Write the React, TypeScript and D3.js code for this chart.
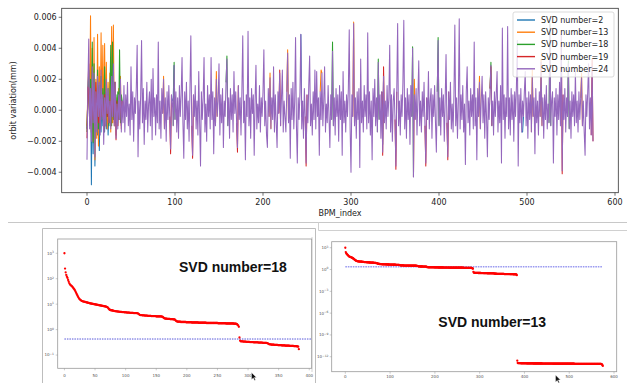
import React from "react";
import * as d3 from "d3";

// ---- top chart: orbit variation per BPM, values in 1e-4 mm ----
const svd24 = [
  -32, 16, 46, -12, 14, -20, 28, -8, 24, -30, 12, -14, 22, -4, 18, -16, 26, -6, 10, -22,
  8, -10, 20, -2, 14, -8, 6, -12, 22, -4, 30, -10, 18, -18, 4, -12, 10, -6, 20, -14,
  6, -8, 16, -14, 10, -4, 18, -10, 4, -16, 28, -6, 12, -20, 8, -2, 14, 42, -30, 6,
  -12, 10, 45, -8, 14, -22, 6, -6, 18, -14, 4, 12, -10, 20, -19, 27, -4, 8, -16, 10,
  -8, 44, -12, 6, -18, 14, -2, 20, -12, 8, -20, 12, -6, 16, -4, -25, 10, 6, -10, 29,
  -6, 12, -14, 8, -18, 16, -4, 10, 34, -8, -31, 12, -6, 18, -12, 6, -20, 14, 48, -10,
  -29, 10, -4, 16, -12, 6, -16, 25, -8, -36, 12, -6, 8, 34, -14, 4, -20, 16, -4, 10,
  -12, 34, -6, 12, -28, 8, -10, 20, -4, 6, 30, -16, 10, -8, 14, -24, 6, -4, 18, 33,
  -10, 8, -18, 14, -6, 10, -14, 25, -2, 12, -8, -24, 16, -6, 8, -16, 12, 48, -8, 6,
  -32, 10, -4, 51, -10, 8, -18, 14, -2, 10, -29, 6, 29, -12, 4, -8, 16, -14, 8, -4,
  12, 39, -10, 6, -16, -24, 14, -4, 21, -12, 8, -6, 28, -14, 10, -8, -24, 12, -2, 24,
  -10, 8, 26, -14, 6, -4, -14, 12, 37, -8, 10, -31, 14, -6, 18, -12, 6, 47, -10, -34,
  8, -6, 12, 49, -12, 6, -18, 14, -4, -34, 10, -8, 16, 35, -10, 4, -16, 12, -6, 26,
  -12, 25, -4, 8, -29, 12, -6, 24, -10, 6, 28, -14, 4, -8, 16, -4, -24, 10, -6, 38,
  -10, 8, -16, 14, -4, 10, -20, 16, -6, 12, -29, 25, -8, 6, -14, 10, -4, 14, 52, -12,
  -40, 10, -4, 56, -10, 8, -18, 12, -6, 14, -37, 33, -8, 6, -14, 16, -4, 10, -12, 50,
  -8, 12, -16, 6, -32, 14, -4, 20, -10, 8, -14, 31, -6, 10, -18, 12, -27, 22, -8, 6,
  -12, 16, -4, 8, 42, -14, 10, -20, 6, 14, -6, -36, 12, 56, -10, 6, -16, 10, -4, 18,
  58, -12, 8, -18, 14, -6, 10, -22, 16, -4, 40, -43, 10, -6, 14, -16, 8, 32, -10, 6,
  -14, 12, -4, 18, -10, -34, 8, -6, 25, -12, 6, 14, -18, 10, -4, 16, -8, -27, 12, 45,
  -10, 8, -16, 14, -4, 10, -20, 6, 36, -8, -30, 12, -6, 18, -12, 4, -14, 10, 55, -10,
  8, -18, 6, 59, -12, 10, -6, 16, -14, 4, -35, 12, 28, -8, 6, -16, 14, -4, 10, -12,
  44, -10, 8, -32, 14, -4, 18, -12, 6, 22, -8, 10, -18, 12, -4, -30, 8, -6, 14, 29,
  -10, 6, -16, 12, -4, 10, 25, -14, 6, -8, 16, -34, 53, -6, 10, -18, 8, -4, 54, -12,
  8, -16, 14, -6, 10, -20, 12, -4, 16, 45, -36, 10, -8, 14, -14, 6, -4, 12, 25, -10,
  8, -18, 12, -6, 10, -14, 22, -4, 8, -28, 14, -8, 6, -16, 12, -4, 31, -10, 8, -18,
  10, -6, 16, -12, 4, -8, 55, -10, 6, 12, -34, 8, -4, 14, -16, 10, -6, 18, -10, 49,
  -39, 10, -6, 14, -14, 8, -4, 30, -12, 6, -18, 12, -4, 10, -10, 25, -8, 6, -14, 12,
  -6, 8, 21, -10, 6, -14, -29, 10, -4, 12, 30, -12, 8, -16, 28, -20,
];

// the other solutions differ mostly over the first 40 BPMs, plus a few peak tips
const svd2Head = [
  -12, 10, 24, -10, 30, -48, 26, -28, 20, -36, -4, 14, -16, 8, -26, 10, -14, 6, -10, 4,
  -14, 6, -12, 4, -16, 2, -8, 10, -6, 8, -4, 18, -10, 4, -8, 6, -4, 10, -6, 4,
];
const svd13Head = [
  -10, 14, 30, -6, 61, -14, 40, -20, 47, -32, 20, -18, 49, -23, 28, -8, 50, -4, 42, -14,
  43, -10, 31, -12, 18, -6, 24, -14, 54, -8, 55, -10, 18, -16, 8, -10, 14, -6, 22, -12,
];
const svd18Head = [
  -14, 10, 26, -8, 20, -12, 44, -21, 30, -18, 10, -8, 26, -12, 16, -10, 22, -6, 14, -12,
  28, -8, 12, -4, 14, -10, 8, 42, -10, 44, -6, 18, -8, 10, -4, 12, -6, 39, -8, 10,
];
const svd19Head = [
  -18, 15, 14, -8, 10, -14, 18, -6, 12, -10, 18, -6, 14, -8, 10, -12, 16, -4, 8, -14,
  10, -6, 14, -4, 10, -8, 6, -10, 18, -4, 14, -8, 18, -19, 6, -10, 8, -4, 12, -10,
];
const svd2Tips = [[98, 8], [244, -4], [495, -14], [336, -22]];
const svd13Tips = [[87, 22], [147, 25], [208, 24], [228, 39], [266, 26], [303, 57], [372, 20], [446, 22], [506, 26], [516, 33], [562, 24]];
const svd18Tips = [[99, 31], [159, 35], [279, 44], [331, 33], [370, 41], [399, 47], [459, 31], [526, 56], [547, 32]];
const svd19Tips = [[95, -28], [120, -31], [171, -27], [219, 26], [249, -36], [336, -29], [337, 28], [351, -38], [385, -36], [410, -32], [459, 28], [540, -41], [574, 33]];

const xTicksTop = [0, 100, 200, 300, 400, 500, 600];
const yTicksTop = [-0.004, -0.002, 0, 0.002, 0.004, 0.006];

// ---- bottom panels: singular values, log10 ----
const singularLog = [
  3.0, 2.4, 2.25, 2.15, 2.08, 2.03, 1.95, 1.88, 1.82, 1.78, 1.75, 1.73, 1.71, 1.68, 1.65, 1.62, 1.59, 1.55, 1.5, 1.45, 1.4, 1.35, 1.3, 1.26,
  1.22, 1.19, 1.17, 1.15, 1.13, 1.12, 1.11, 1.1, 1.1, 1.09, 1.09, 1.08, 1.07, 1.07, 1.06, 1.05, 1.05, 1.04, 1.03, 1.03, 1.02, 1.02, 1.01, 1.01,
  1.0, 1.0, 0.99, 0.99, 0.98, 0.98, 0.97, 0.97, 0.96, 0.96, 0.95, 0.95, 0.94, 0.94, 0.93, 0.93, 0.92, 0.92, 0.91, 0.91, 0.9, 0.89, 0.88, 0.86,
  0.83, 0.8, 0.78, 0.77, 0.76, 0.76, 0.75, 0.75, 0.74, 0.74, 0.73, 0.73, 0.72, 0.72, 0.72, 0.71, 0.71, 0.71, 0.7, 0.7, 0.7, 0.7, 0.69, 0.69,
  0.69, 0.69, 0.68, 0.68, 0.68, 0.68, 0.67, 0.67, 0.67, 0.67, 0.67, 0.66, 0.66, 0.66, 0.66, 0.66, 0.66, 0.65, 0.65, 0.65, 0.65, 0.65, 0.65, 0.64,
  0.64, 0.62, 0.6, 0.58, 0.57, 0.57, 0.57, 0.56, 0.56, 0.56, 0.56, 0.55, 0.55, 0.55, 0.55, 0.55, 0.54, 0.54, 0.54, 0.54, 0.54, 0.54, 0.53, 0.53,
  0.53, 0.53, 0.53, 0.53, 0.53, 0.53, 0.52, 0.52, 0.52, 0.52, 0.52, 0.52, 0.52, 0.52, 0.52, 0.51, 0.51, 0.49, 0.47, 0.45, 0.44, 0.43, 0.43, 0.43,
  0.42, 0.42, 0.42, 0.42, 0.42, 0.41, 0.41, 0.41, 0.41, 0.41, 0.4, 0.4, 0.4, 0.38, 0.35, 0.33, 0.32, 0.31, 0.31, 0.31, 0.31, 0.31, 0.3, 0.3,
  0.3, 0.3, 0.3, 0.3, 0.3, 0.3, 0.3, 0.29, 0.29, 0.29, 0.29, 0.29, 0.29, 0.29, 0.29, 0.29, 0.28, 0.28, 0.28, 0.28, 0.28, 0.28, 0.28, 0.28,
  0.28, 0.28, 0.28, 0.27, 0.27, 0.27, 0.27, 0.27, 0.27, 0.27, 0.27, 0.27, 0.27, 0.27, 0.27, 0.27, 0.26, 0.26, 0.26, 0.26, 0.26, 0.26, 0.26, 0.26,
  0.26, 0.26, 0.26, 0.26, 0.26, 0.26, 0.26, 0.26, 0.26, 0.26, 0.26, 0.25, 0.25, 0.25, 0.25, 0.25, 0.25, 0.25, 0.25, 0.25, 0.25, 0.25, 0.25, 0.25,
  0.24, 0.24, 0.24, 0.24, 0.24, 0.24, 0.24, 0.24, 0.24, 0.24, 0.24, 0.24, 0.24, 0.23, 0.23, 0.23, 0.23, 0.22, 0.21, 0.19, 0.16, 0.11, -0.31, -0.43,
  -0.46, -0.46, -0.46, -0.46, -0.47, -0.47, -0.47, -0.47, -0.47, -0.48, -0.48, -0.48, -0.48, -0.48, -0.48, -0.49, -0.49, -0.49, -0.49, -0.49, -0.49, -0.5, -0.5, -0.5,
  -0.5, -0.5, -0.5, -0.5, -0.5, -0.51, -0.51, -0.51, -0.51, -0.51, -0.51, -0.51, -0.52, -0.52, -0.52, -0.52, -0.52, -0.52, -0.52, -0.53, -0.54, -0.55, -0.57, -0.58,
  -0.58, -0.58, -0.59, -0.59, -0.59, -0.59, -0.59, -0.6, -0.6, -0.6, -0.6, -0.6, -0.6, -0.61, -0.61, -0.61, -0.61, -0.61, -0.61, -0.62, -0.62, -0.62, -0.62, -0.62,
  -0.62, -0.63, -0.63, -0.63, -0.63, -0.63, -0.63, -0.63, -0.64, -0.64, -0.64, -0.64, -0.64, -0.64, -0.64, -0.65, -0.65, -0.65, -0.65, -0.65, -0.66, -0.66, -0.67, -0.77,
  -12.54, -12.86, -12.87, -12.88, -12.88, -12.89, -12.89, -12.89, -12.9, -12.9, -12.9, -12.9, -12.9, -12.9, -12.91, -12.91, -12.91, -12.91, -12.91, -12.91, -12.91, -12.92, -12.92, -12.92,
  -12.92, -12.92, -12.92, -12.92, -12.92, -12.92, -12.92, -12.92, -12.92, -12.92, -12.92, -12.92, -12.93, -12.93, -12.93, -12.93, -12.93, -12.93, -12.93, -12.93, -12.93, -12.93, -12.93, -12.93,
  -12.93, -12.93, -12.93, -12.93, -12.93, -12.93, -12.93, -12.93, -12.94, -12.94, -12.94, -12.94, -12.94, -12.94, -12.94, -12.94, -12.94, -12.94, -12.94, -12.94, -12.94, -12.94, -12.94, -12.94,
  -12.94, -12.94, -12.94, -12.94, -12.94, -12.94, -12.94, -12.94, -12.95, -12.95, -12.95, -12.95, -12.95, -12.95, -12.95, -12.95, -12.95, -12.95, -12.95, -12.95, -12.95, -12.95, -12.95, -12.95,
  -12.95, -12.95, -12.95, -12.95, -12.95, -12.95, -12.95, -12.95, -12.96, -12.96, -12.96, -12.96, -12.96, -12.96, -12.96, -12.96, -12.96, -12.96, -12.96, -12.96, -12.96, -12.96, -12.96, -12.96,
  -12.96, -12.96, -12.96, -12.96, -12.96, -12.96, -12.96, -12.96, -12.97, -12.97, -12.97, -12.97, -12.97, -12.97, -12.97, -12.97, -12.97, -12.97, -12.97, -12.97, -12.97, -12.97, -12.97, -12.97,
  -12.97, -12.97, -12.97, -12.97, -12.97, -12.97, -12.97, -12.97, -12.98, -12.98, -12.98, -12.98, -12.98, -12.98, -12.98, -12.98, -12.98, -12.98, -12.98, -12.98, -12.98, -12.98, -12.98, -12.98,
  -12.98, -12.98, -12.98, -12.98, -12.98, -12.98, -12.98, -12.98, -12.98, -12.98, -12.99, -12.99, -12.99, -12.99, -12.99, -12.99, -12.99, -12.99, -12.99, -12.99, -13.02, -13.06, -13.14, -13.27,
];
const cutLog18 = -0.37;
const cutLog13 = 0.39;
const leftCount = 384;
const xTicksLeft = [0, 50, 100, 150, 200, 250, 300, 350, 400];
const yExpLeft = [3, 2, 1, 0, -1];
const xTicksRight = [0, 100, 200, 300, 400, 500, 600];
const yExpRight = [3, 0, -3, -6, -9, -12];

// series equal to SVD=24 outside its own head and tips; only the differing parts are drawn
function buildSeries(head: number[], tips: number[][]) {
  const values = svd24.slice();
  const shown = svd24.map((_, i) => i <= head.length);
  head.forEach((v, i) => (values[i] = v));
  tips.forEach(([i, v]) => {
    values[i] = v;
    shown[i - 1] = shown[i] = shown[i + 1] = true;
  });
  return { values, shown };
}

const series = [
  { label: "SVD number=2", color: "#1f77b4", ...buildSeries(svd2Head, svd2Tips) },
  { label: "SVD number=13", color: "#ff7f0e", ...buildSeries(svd13Head, svd13Tips) },
  { label: "SVD number=18", color: "#2ca02c", ...buildSeries(svd18Head, svd18Tips) },
  { label: "SVD number=19", color: "#d62728", ...buildSeries(svd19Head, svd19Tips) },
  { label: "SVD number=24", color: "#9467bd", values: svd24, shown: svd24.map(() => true) },
];

const MPL = "DejaVu Sans, sans-serif";

function fmt(v: number) {
  const s = Math.abs(v).toFixed(3);
  return v < 0 ? "\u2212" + s : s;
}

function Cursor({ x, y }: { x: number; y: number }) {
  return (
    <path
      transform={`translate(${x},${y})`}
      d="M0,0 L0,7 L1.8,5.4 L3,8 L4,7.5 L2.9,5 L5,5 Z"
      fill="#111"
      stroke="#fff"
      strokeWidth={0.4}
    />
  );
}

export default function App() {
  // top chart
  const x = d3.scaleLinear().domain([-28.75, 603.75]).range([61.7, 618.3]);
  const y = d3.scaleLinear().domain([-0.00532, 0.00658]).range([192.7, 8.3]);
  const [x0, x1] = x.range();
  const [yb, yt] = y.range();

  // bottom-left panel
  const xL = d3.scaleLinear().domain([-11, 404]).range([57.7, 311.7]);
  const yL = d3.scaleLog().domain([10 ** -1.52, 10 ** 3.56]).range([368.3, 239]);
  // bottom-right panel
  const xR = d3.scaleLinear().domain([-30.4, 606]).range([331.7, 616.7]);
  const yR = d3.scaleLog().domain([10 ** -14.06, 10 ** 3.83]).range([371.7, 241.7]);

  const leftVals = singularLog.slice(0, leftCount);

  return (
    <svg
      width={627}
      height={383}
      style={{ position: "absolute", left: 0, top: 0, background: "#fff" }}
      fontFamily={MPL}
    >
      <defs>
        <clipPath id="topclip">
          <rect x={x0} y={yt} width={x1 - x0} height={yb - yt} />
        </clipPath>
      </defs>

      {/* ---------- top chart ---------- */}
      <g clipPath="url(#topclip)">
        {series.map((s) => {
          const line = d3
            .line<number>()
            .defined((_, i) => s.shown[i])
            .x((_, i) => x(i))
            .y((d) => y(d * 1e-4));
          return (
            <path key={s.label} d={line(s.values) || ""} fill="none" stroke={s.color} strokeWidth={1.05} strokeLinejoin="round" />
          );
        })}
      </g>
      <rect x={x0} y={yt} width={x1 - x0} height={yb - yt} fill="none" stroke="#333" strokeWidth={0.8} />
      {xTicksTop.map((t) => (
        <g key={t}>
          <line x1={x(t)} x2={x(t)} y1={yb} y2={yb + 3} stroke="#333" strokeWidth={0.7} />
          <text x={x(t)} y={205} fontSize={8} textAnchor="middle" fill="#222">
            {t}
          </text>
        </g>
      ))}
      {yTicksTop.map((t) => (
        <g key={t}>
          <line x1={x0 - 3} x2={x0} y1={y(t)} y2={y(t)} stroke="#333" strokeWidth={0.7} />
          <text x={x0 - 5} y={y(t) + 2.8} fontSize={8} textAnchor="end" fill="#222">
            {fmt(t)}
          </text>
        </g>
      ))}
      <text x={(x0 + x1) / 2} y={216} fontSize={8} textAnchor="middle" fill="#222">
        BPM_index
      </text>
      <text transform={`translate(16,${(yt + yb) / 2}) rotate(-90)`} fontSize={8} textAnchor="middle" fill="#222">
        orbit variation(mm)
      </text>

      {/* legend */}
      <rect x={513} y={12} width={101} height={65} rx={2} fill="#fff" fillOpacity={0.8} stroke="#ccc" strokeWidth={0.7} />
      {series.map((s, i) => {
        const cy = 20 + i * 12.2;
        return (
          <g key={s.label}>
            <line x1={517} x2={535} y1={cy} y2={cy} stroke={s.color} strokeWidth={1.4} />
            <text x={541} y={cy + 2.9} fontSize={8} fill="#222">
              {s.label}
            </text>
          </g>
        );
      })}

      {/* ---------- screenshot frames ---------- */}
      <line x1={8} x2={627} y1={222.5} y2={222.5} stroke="#c8c8c8" strokeWidth={1} />
      <path d="M318.5,222.5 V230.5 H627" fill="none" stroke="#d0d0d0" strokeWidth={1} />
      <path d="M42.5,383 V228.5 H315.5 V383" fill="none" stroke="#bdbdbd" strokeWidth={1} />
      <line x1={312} x2={312} y1={237} y2={372} stroke="#c8c8c8" strokeWidth={0.8} />

      {/* ---------- bottom-left: SVD number=18 ---------- */}
      <rect x={57.7} y={239} width={254} height={129.3} fill="none" stroke="#999" strokeWidth={0.8} />
      <line
        x1={xL(0)}
        x2={311.7}
        y1={yL(10 ** cutLog18)}
        y2={yL(10 ** cutLog18)}
        stroke="#2a2ad0"
        strokeWidth={0.8}
        strokeDasharray="1.5,1"
      />
      {leftVals.map((v, i) => (
        <circle key={i} cx={xL(i)} cy={yL(10 ** v)} r={1.15} fill="#ff0000" />
      ))}
      {xTicksLeft.map((t) => (
        <g key={t}>
          <line x1={xL(t)} x2={xL(t)} y1={368.3} y2={370.3} stroke="#999" strokeWidth={0.5} />
          <text x={xL(t)} y={376.5} fontSize={4} textAnchor="middle" fill="#555">
            {t}
          </text>
        </g>
      ))}
      {yExpLeft.map((e) => (
        <g key={e}>
          <line x1={55.7} x2={57.7} y1={yL(10 ** e)} y2={yL(10 ** e)} stroke="#999" strokeWidth={0.5} />
          <text x={54} y={yL(10 ** e) + 1.4} fontSize={4} textAnchor="end" fill="#555">
            10<tspan dy={-1.5} fontSize={3}>{e < 0 ? "\u2212" + Math.abs(e) : e}</tspan>
          </text>
        </g>
      ))}
      <text x={179} y={271.5} fontSize={14} fontWeight="bold" fontFamily="Liberation Sans, Arial, sans-serif" fill="#111">
        SVD number=18
      </text>

      {/* ---------- bottom-right: SVD number=13 ---------- */}
      <rect x={331.7} y={241.7} width={285} height={130} fill="none" stroke="#999" strokeWidth={0.8} />
      <line
        x1={xR(0)}
        x2={xR(575)}
        y1={yR(10 ** cutLog13)}
        y2={yR(10 ** cutLog13)}
        stroke="#9a9af0"
        strokeWidth={1.4}
        strokeDasharray="1.6,0.9"
      />
      {singularLog.map((v, i) => (
        <circle key={i} cx={xR(i)} cy={yR(10 ** v)} r={1.15} fill="#ff0000" />
      ))}
      {xTicksRight.map((t) => (
        <g key={t}>
          <line x1={xR(t)} x2={xR(t)} y1={371.7} y2={373.7} stroke="#999" strokeWidth={0.5} />
          <text x={xR(t)} y={377.5} fontSize={4} textAnchor="middle" fill="#555">
            {t}
          </text>
        </g>
      ))}
      {yExpRight.map((e) => (
        <g key={e}>
          <line x1={329.7} x2={331.7} y1={yR(10 ** e)} y2={yR(10 ** e)} stroke="#999" strokeWidth={0.5} />
          <text x={328.5} y={yR(10 ** e) + 1.4} fontSize={4} textAnchor="end" fill="#555">
            10<tspan dy={-1.5} fontSize={3}>{e < 0 ? "\u2212" + Math.abs(e) : e}</tspan>
          </text>
        </g>
      ))}
      <text x={438.3} y={326.5} fontSize={14} fontWeight="bold" fontFamily="Liberation Sans, Arial, sans-serif" fill="#111">
        SVD number=13
      </text>

      <Cursor x={251.5} y={372.5} />
      <Cursor x={555.5} y={375} />
    </svg>
  );
}
